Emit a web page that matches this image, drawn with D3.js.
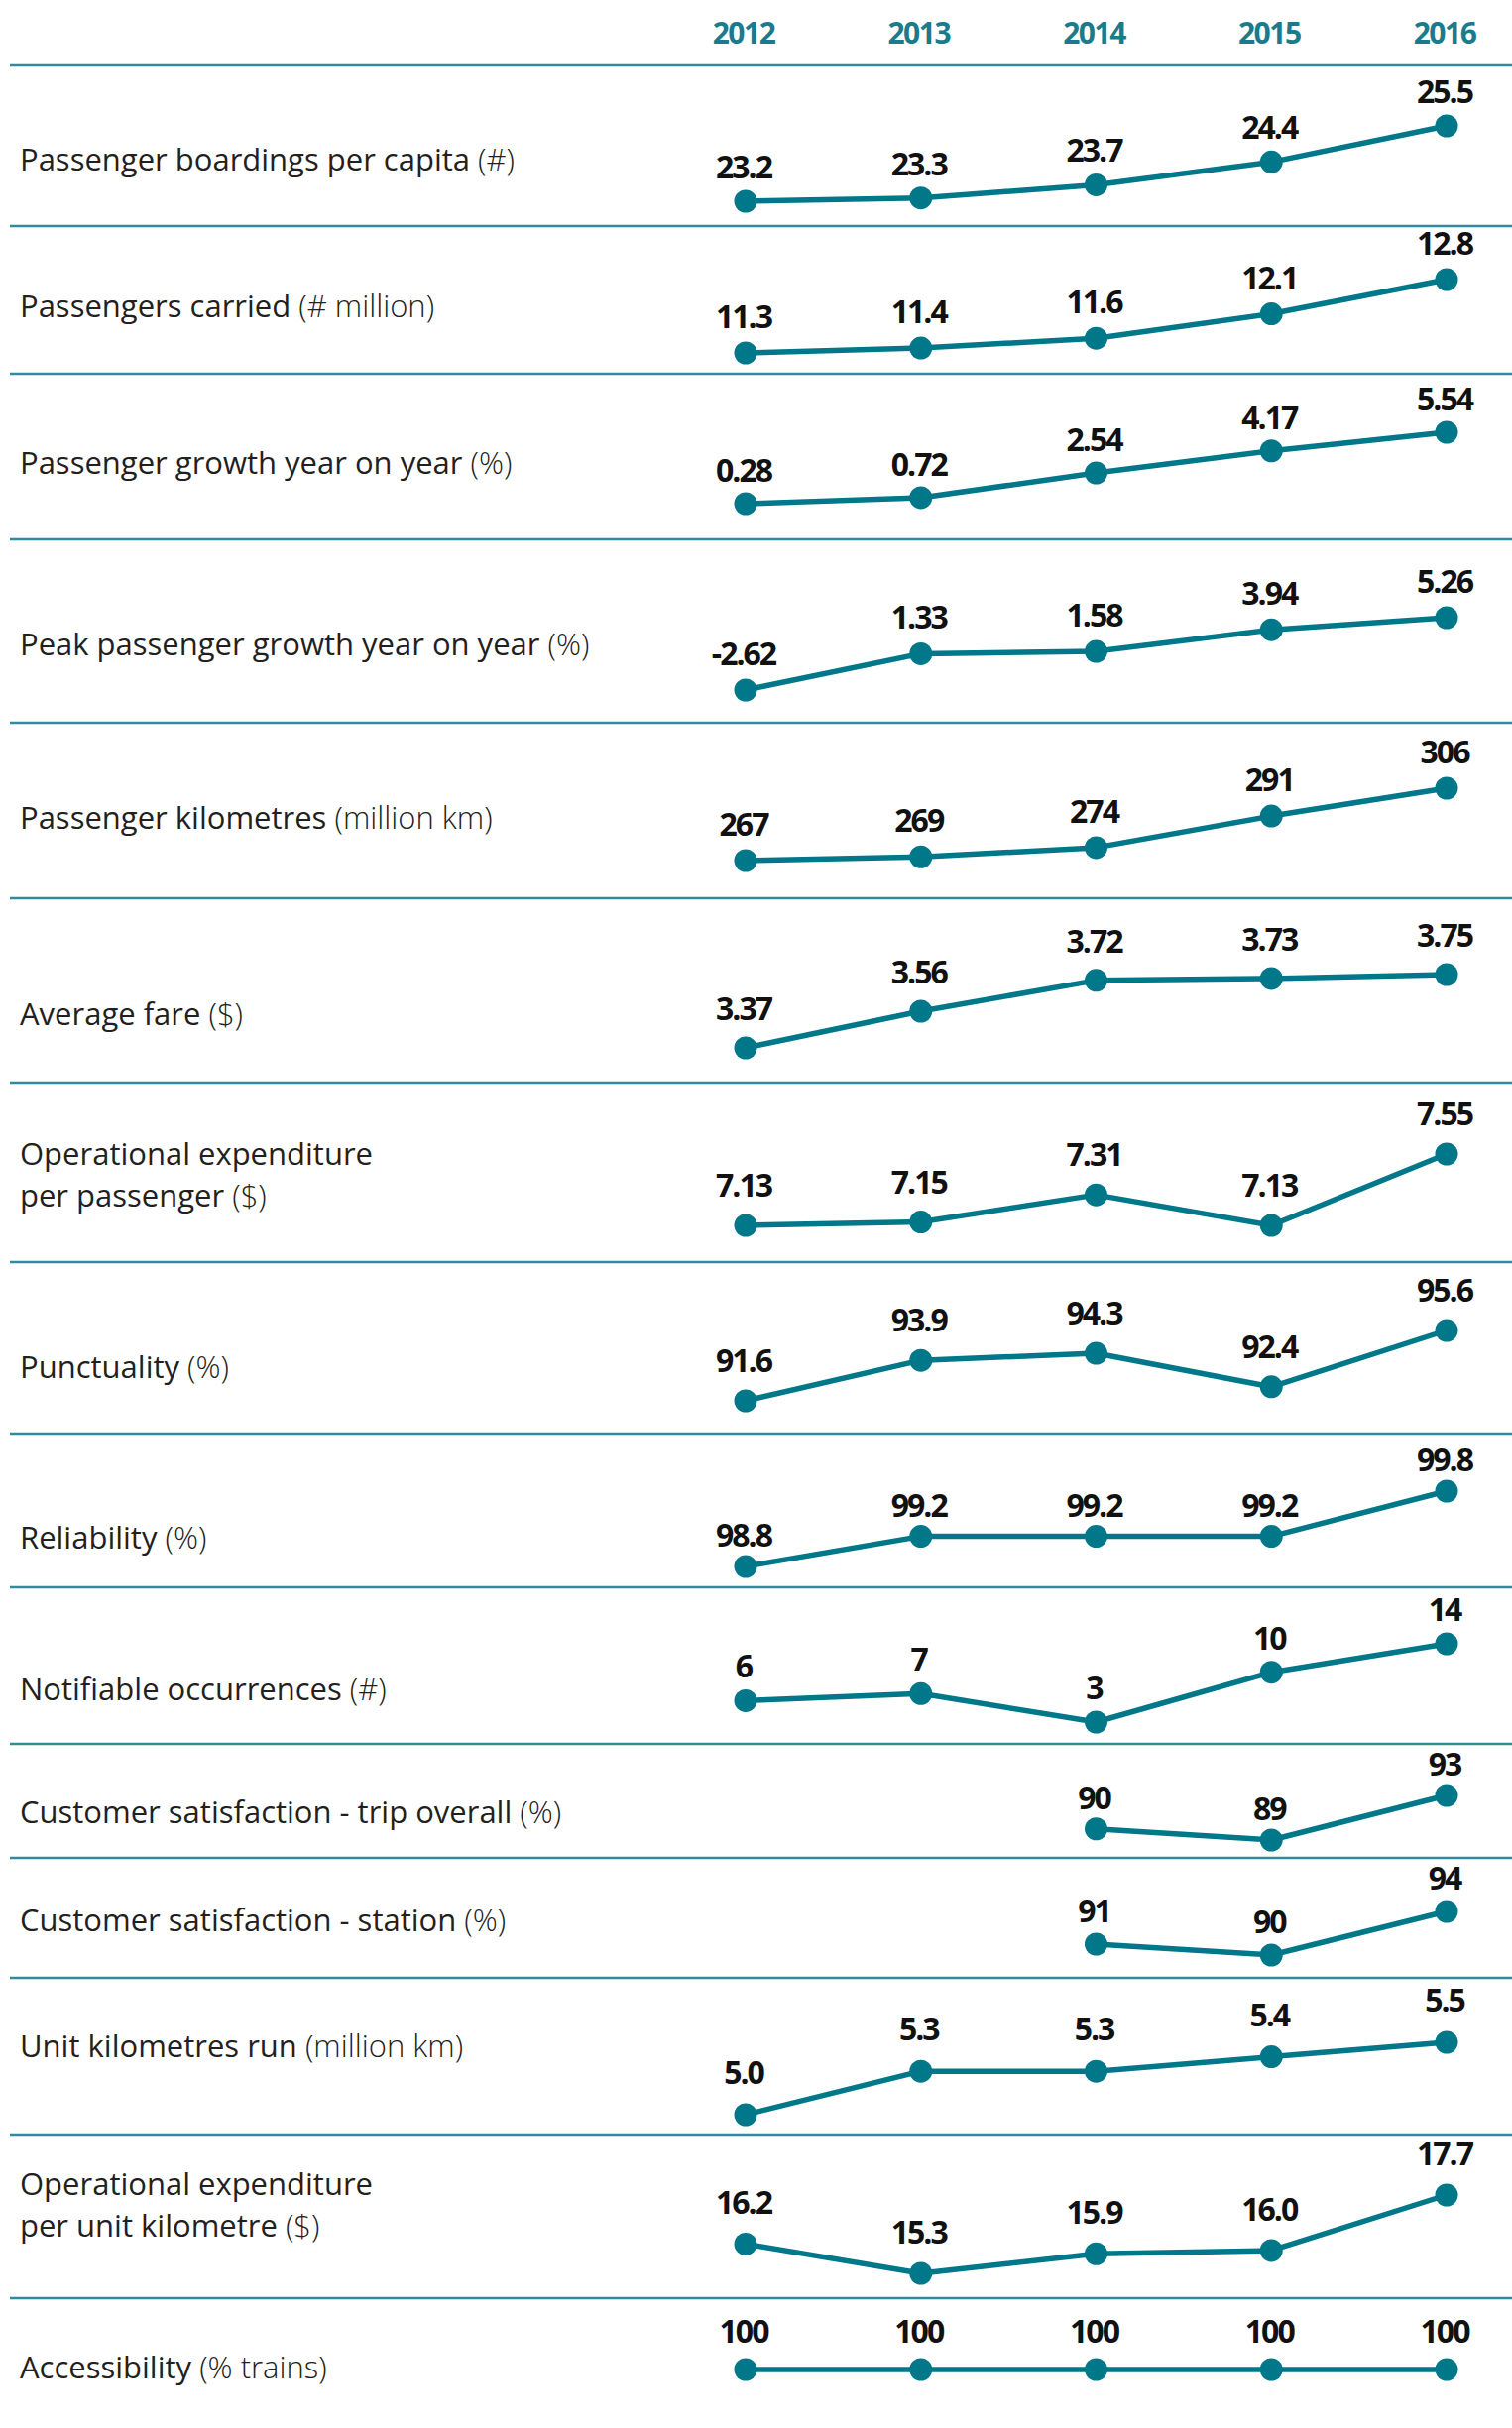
<!DOCTYPE html>
<html>
<head>
<meta charset="utf-8">
<script src="https://cdn.jsdelivr.net/npm/d3@7/dist/d3.min.js"></script>
<style>
  html, body { margin: 0; padding: 0; background: #ffffff; }
  svg { display: block; }
</style>
</head>
<body>
<div id="chart"></div>
<script>
// ---------------- DATA ----------------
const years = ["2012", "2013", "2014", "2015", "2016"];

const boardingsPerCapita    = [23.2, 23.3, 23.7, 24.4, 25.5];
const passengersCarried     = [11.3, 11.4, 11.6, 12.1, 12.8];
const passengerGrowth       = [0.28, 0.72, 2.54, 4.17, 5.54];
const peakPassengerGrowth   = [-2.62, 1.33, 1.58, 3.94, 5.26];
const passengerKilometres   = [267, 269, 274, 291, 306];
const averageFare           = [3.37, 3.56, 3.72, 3.73, 3.75];
const opexPerPassenger      = [7.13, 7.15, 7.31, 7.13, 7.55];
const punctuality           = [91.6, 93.9, 94.3, 92.4, 95.6];
const reliability           = [98.8, 99.2, 99.2, 99.2, 99.8];
const notifiableOccurrences = [6, 7, 3, 10, 14];
const satisfactionTrip      = [null, null, 90, 89, 93];
const satisfactionStation   = [null, null, 91, 90, 94];
const unitKilometresRun     = [5.0, 5.3, 5.3, 5.4, 5.5];
const opexPerUnitKilometre  = [16.2, 15.3, 15.9, 16.0, 17.7];
const accessibility         = [100, 100, 100, 100, 100];

const metricNames = [
  "Passenger boardings per capita",
  "Passengers carried",
  "Passenger growth year on year",
  "Peak passenger growth year on year",
  "Passenger kilometres",
  "Average fare",
  "Operational expenditure\nper passenger",
  "Punctuality",
  "Reliability",
  "Notifiable occurrences",
  "Customer satisfaction - trip overall",
  "Customer satisfaction - station",
  "Unit kilometres run",
  "Operational expenditure\nper unit kilometre",
  "Accessibility"
];
const metricUnits = [
  "(#)", "(# million)", "(%)", "(%)", "(million km)", "($)", "($)",
  "(%)", "(%)", "(#)", "(%)", "(%)", "(million km)", "($)", "(% trains)"
];
const valueDecimals = [1, 1, 2, 2, 0, 2, 2, 1, 1, 0, 0, 0, 1, 1, 0];

const seriesList = [
  boardingsPerCapita, passengersCarried, passengerGrowth, peakPassengerGrowth,
  passengerKilometres, averageFare, opexPerPassenger, punctuality, reliability,
  notifiableOccurrences, satisfactionTrip, satisfactionStation, unitKilometresRun,
  opexPerUnitKilometre, accessibility
];

// ---------------- LAYOUT (pixels) ----------------
const W = 1525, H = 2449;
const rowRules = [66, 228, 377, 544, 729, 906, 1092, 1273, 1446, 1601, 1759, 1874, 1995, 2153, 2318];
// vertical pixel range of each row's value scale: [y at row minimum, y at row maximum]
const rowRanges = [
  [203, 127], [356, 282], [508, 436], [696, 623], [868, 795],
  [1057, 983], [1236, 1164], [1413, 1342], [1580, 1504], [1737, 1658],
  [1856, 1811], [1972, 1928], [2133, 2060], [2293, 2214], [2390, 2390]
];
const labelBaselines = [172, 320, 478, 661, 836, 1034, 1175, 1390, 1562, 1715, 1839, 1948, 2075, 2214, 2399];
const valueLabelGap  = [23, 25, 22, 25, 25, 28, 29, 29, 20, 23, 20, 22, 31, 30, 27];
const labelLineHeight = 42;

const teal = "#00788a";
const ruleColor = "#2f8d9b";
const textColor = "#231f20";
const fontStack = "'Open Sans', 'Noto Sans', sans-serif";

// ---------------- DRAW ----------------
const svg = d3.select("#chart").append("svg")
  .attr("width", W).attr("height", H)
  .attr("viewBox", `0 0 ${W} ${H}`);

const x = d3.scalePoint().domain(years).range([752, 1459]);

// header years
svg.append("g").selectAll("text")
  .data(years).join("text")
  .attr("x", d => x(d) - 2)
  .attr("y", 44)
  .attr("text-anchor", "middle")
  .attr("font-family", fontStack)
  .attr("font-weight", 700)
  .attr("font-size", 30)
  .attr("letter-spacing", -1.5)
  .attr("fill", "#1b7b8b")
  .text(d => d);

// row rules
svg.append("g").selectAll("line")
  .data(rowRules).join("line")
  .attr("x1", 10).attr("x2", W)
  .attr("y1", d => d).attr("y2", d => d)
  .attr("stroke", ruleColor)
  .attr("stroke-width", 2.5);

seriesList.forEach((series, i) => {
  const g = svg.append("g").attr("class", "row");
  const vals = series.filter(v => v != null);
  const y = d3.scaleLinear().domain(d3.extent(vals)).range(rowRanges[i]);
  const fmt = d3.format("." + valueDecimals[i] + "f");
  const pts = years.map((yr, j) => ({ year: yr, value: series[j] }));

  // row label (one text element per line)
  const lines = metricNames[i].split("\n");
  lines.forEach((ln, k) => {
    const t = g.append("text")
      .attr("x", 20)
      .attr("y", labelBaselines[i] + k * labelLineHeight)
      .attr("font-family", fontStack)
      .attr("font-size", 31)
      .attr("fill", textColor);
    t.append("tspan").attr("font-weight", 400).text(ln);
    if (k === lines.length - 1) {
      t.append("tspan").attr("font-weight", 300).text(" " + metricUnits[i]);
    }
  });

  // line
  const line = d3.line()
    .defined(d => d.value != null)
    .x(d => x(d.year))
    .y(d => y(d.value));
  g.append("path")
    .datum(pts)
    .attr("d", line)
    .attr("fill", "none")
    .attr("stroke", teal)
    .attr("stroke-width", 5.5)
    .attr("stroke-linejoin", "round");

  const present = pts.filter(d => d.value != null);

  g.selectAll("circle")
    .data(present).join("circle")
    .attr("cx", d => x(d.year))
    .attr("cy", d => y(d.value))
    .attr("r", 11.5)
    .attr("fill", teal);

  g.selectAll("text.val")
    .data(present).join("text")
    .attr("class", "val")
    .attr("x", d => x(d.year) - 2)
    .attr("y", d => y(d.value) - valueLabelGap[i])
    .attr("text-anchor", "middle")
    .attr("font-family", fontStack)
    .attr("font-weight", 700)
    .attr("font-size", 32)
    .attr("letter-spacing", -2)
    .attr("fill", "#111111")
    .text(d => fmt(d.value).replace("\u2212", "-"));
});
</script>
</body>
</html>
